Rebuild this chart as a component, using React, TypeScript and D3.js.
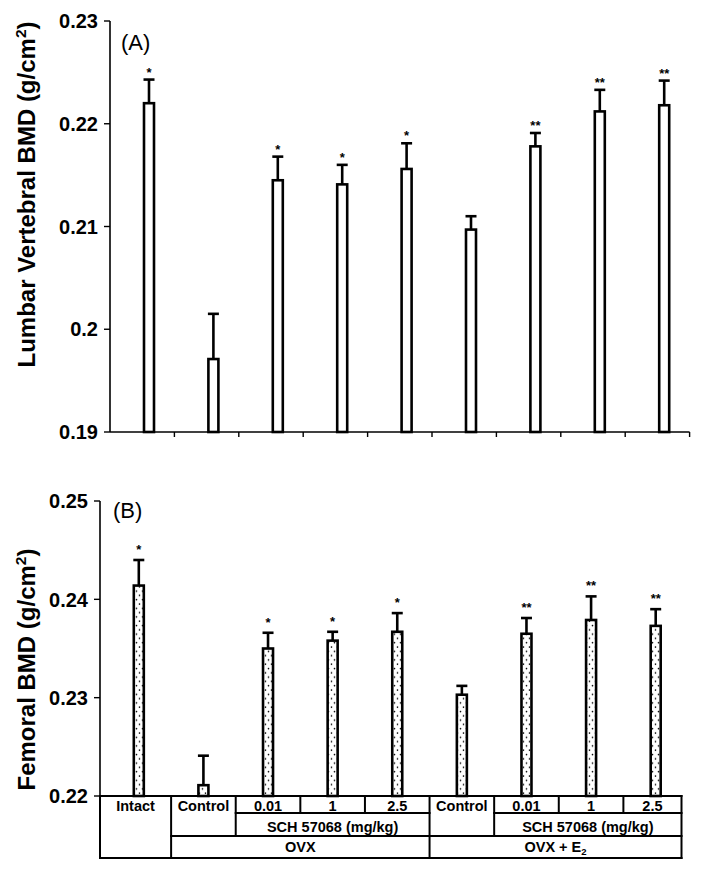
import React from "react";
import * as d3 from "d3";

const categories = ["Intact", "Control", "0.01", "1", "2.5", "Control", "0.01", "1", "2.5"];
const lumbarMean = [0.222, 0.1971, 0.2145, 0.2141, 0.2156, 0.2097, 0.2178, 0.2212, 0.2218];
const lumbarErr = [0.0023, 0.0044, 0.0023, 0.0019, 0.0025, 0.0013, 0.0013, 0.0021, 0.0024];
const femoralMean = [0.2414, 0.2211, 0.235, 0.2358, 0.2367, 0.2303, 0.2365, 0.2379, 0.2373];
const femoralErr = [0.0026, 0.003, 0.0016, 0.0009, 0.0019, 0.0009, 0.0016, 0.0024, 0.0017];
const significance = ["*", "", "*", "*", "*", "", "**", "**", "**"];
const lumbarTicks = [0.19, 0.2, 0.21, 0.22, 0.23];
const lumbarTickLabels = ["0.19", "0.2", "0.21", "0.22", "0.23"];
const femoralTicks = [0.22, 0.23, 0.24, 0.25];
const femoralTickLabels = ["0.22", "0.23", "0.24", "0.25"];
const doseLabel = "SCH 57068 (mg/kg)";

const FONT = "'Liberation Sans', Arial, Helvetica, sans-serif";

type PanelProps = {
  means: number[];
  errs: number[];
  domain: [number, number];
  yRange: [number, number];
  xRange: [number, number];
  ticks: number[];
  tickLabels: string[];
  offset: number;
  fill: string;
  starGap: number;
  showXAxis: boolean;
  axisBottomExtra: number;
};

function Panel(p: PanelProps) {
  const y = d3.scaleLinear().domain(p.domain).range(p.yRange);
  const x = d3.scaleBand<number>().domain(d3.range(categories.length)).range(p.xRange).padding(0);
  const bw = x.bandwidth();
  const barW = 10;
  const capW = 11;
  const x0 = p.xRange[0];
  const yBase = p.yRange[0];
  return (
    <g>
      <line x1={x0} x2={x0} y1={p.yRange[1]} y2={yBase + p.axisBottomExtra} stroke="#000" strokeWidth={1.6} />
      {p.ticks.map((t, i) => (
        <g key={"t" + i}>
          <line x1={x0 - 6} x2={x0} y1={y(t)} y2={y(t)} stroke="#000" strokeWidth={1.4} />
          <text x={x0 - 12} y={y(t)} dy="0.36em" textAnchor="end" fontFamily={FONT} fontWeight="bold" fontSize={20}>
            {p.tickLabels[i]}
          </text>
        </g>
      ))}
      {p.showXAxis && (
        <g>
          <line x1={x0} x2={p.xRange[1]} y1={yBase} y2={yBase} stroke="#000" strokeWidth={1.6} />
          {d3.range(1, categories.length + 1).map((i) => {
            const xx = i < categories.length ? (x(i) as number) : p.xRange[1];
            return <line key={"xt" + i} x1={xx} x2={xx} y1={yBase} y2={yBase + 5} stroke="#000" strokeWidth={1.4} />;
          })}
        </g>
      )}
      {p.means.map((m, i) => {
        const cx = (x(i) as number) + bw / 2 + p.offset;
        const top = y(m);
        const errTop = y(m + p.errs[i]);
        return (
          <g key={"b" + i}>
            <line x1={cx} x2={cx} y1={top} y2={errTop} stroke="#000" strokeWidth={2.6} />
            <line x1={cx - capW / 2} x2={cx + capW / 2} y1={errTop} y2={errTop} stroke="#000" strokeWidth={2.6} />
            <rect x={cx - barW / 2} y={top} width={barW} height={yBase - top} fill={p.fill} stroke="#000" strokeWidth={2.6} />
            {significance[i] && (
              <text x={cx} y={errTop - p.starGap} textAnchor="middle" fontFamily={FONT} fontWeight="bold" fontSize={13}>
                {significance[i]}
              </text>
            )}
          </g>
        );
      })}
    </g>
  );
}

function Table() {
  const x = d3.scaleBand<number>().domain(d3.range(categories.length)).range([100, 681.5]).padding(0);
  const off = 6.5;
  const edge = (i: number) => (i === 0 ? 100 : i >= categories.length ? 681.5 : (x(i) as number) + off);
  const rows = [796, 813, 836, 858];
  const sw = 2;
  const hl = (x1: number, x2: number, yy: number, k: string) => (
    <line key={k} x1={x1} x2={x2} y1={yy} y2={yy} stroke="#000" strokeWidth={sw} strokeLinecap="square" />
  );
  const vl = (xx: number, y1: number, y2: number, k: string) => (
    <line key={k} x1={xx} x2={xx} y1={y1} y2={y2} stroke="#000" strokeWidth={sw} strokeLinecap="square" />
  );
  const mid = (a: number, b: number) => (edge(a) + edge(b)) / 2;
  const txt = (cx: number, yy: number, s: React.ReactNode, k: string) => (
    <text key={k} x={cx} y={yy} textAnchor="middle" fontFamily={FONT} fontWeight="bold" fontSize={14.5}>
      {s}
    </text>
  );
  return (
    <g>
      {hl(edge(0), edge(9), rows[0], "h0")}
      {hl(edge(2), edge(5), rows[1], "h1a")}
      {hl(edge(6), edge(9), rows[1], "h1b")}
      {hl(edge(1), edge(9), rows[2], "h2")}
      {hl(edge(0), edge(9), rows[3], "h3")}
      {vl(edge(0), rows[0], rows[3], "v0")}
      {vl(edge(1), rows[0], rows[3], "v1")}
      {vl(edge(2), rows[0], rows[2], "v2")}
      {vl(edge(3), rows[0], rows[1], "v3")}
      {vl(edge(4), rows[0], rows[1], "v4")}
      {vl(edge(5), rows[0], rows[3], "v5")}
      {vl(edge(6), rows[0], rows[2], "v6")}
      {vl(edge(7), rows[0], rows[1], "v7")}
      {vl(edge(8), rows[0], rows[1], "v8")}
      {vl(edge(9), rows[0], rows[3], "v9")}
      {categories.map((c, i) => txt(mid(i, i + 1), 811, c, "c" + i))}
      {txt(mid(2, 5), 831.5, doseLabel, "d1")}
      {txt(mid(6, 9), 831.5, doseLabel, "d2")}
      {txt(mid(1, 5), 852, "OVX", "o1")}
      {txt(
        mid(5, 9),
        852,
        <>
          OVX + E<tspan fontSize={9.5} dy={3}>2</tspan>
        </>,
        "o2"
      )}
    </g>
  );
}

export default function App() {
  return (
    <svg width={704} height={873} style={{ position: "absolute", left: 0, top: 0, background: "#fff" }}>
      <defs>
        <pattern id="dots" patternUnits="userSpaceOnUse" width={6} height={8.6}>
          <rect width={6} height={8.6} fill="#fff" />
          <circle cx={1.5} cy={2} r={0.8} fill="#000" />
          <circle cx={4.5} cy={6.3} r={0.8} fill="#000" />
        </pattern>
      </defs>
      <rect width={704} height={873} fill="#fff" />
      <Panel
        means={lumbarMean}
        errs={lumbarErr}
        domain={[0.19, 0.23]}
        yRange={[432, 21]}
        xRange={[110, 689.6]}
        ticks={lumbarTicks}
        tickLabels={lumbarTickLabels}
        offset={6.8}
        fill="#fff"
        starGap={3}
        showXAxis={true}
        axisBottomExtra={0}
      />
      <Panel
        means={femoralMean}
        errs={femoralErr}
        domain={[0.22, 0.25]}
        yRange={[796, 501]}
        xRange={[100, 681.5]}
        ticks={femoralTicks}
        tickLabels={femoralTickLabels}
        offset={6.5}
        fill="url(#dots)"
        starGap={6}
        showXAxis={false}
        axisBottomExtra={62}
      />
      <Table />
      <text x={121} y={50} fontFamily={FONT} fontSize={22}>(A)</text>
      <text x={113} y={518} fontFamily={FONT} fontSize={22}>(B)</text>
      <text
        transform="translate(35,194.5) rotate(-90)"
        textAnchor="middle"
        fontFamily={FONT}
        fontWeight="bold"
        fontSize={24}
      >
        Lumbar Vertebral BMD (g/cm<tspan fontSize={15.5} dy={-9.5}>2</tspan>
        <tspan dy={9.5}>)</tspan>
      </text>
      <text
        transform="translate(35,669.5) rotate(-90)"
        textAnchor="middle"
        fontFamily={FONT}
        fontWeight="bold"
        fontSize={24}
      >
        Femoral BMD (g/cm<tspan fontSize={15.5} dy={-9.5}>2</tspan>
        <tspan dy={9.5}>)</tspan>
      </text>
    </svg>
  );
}
